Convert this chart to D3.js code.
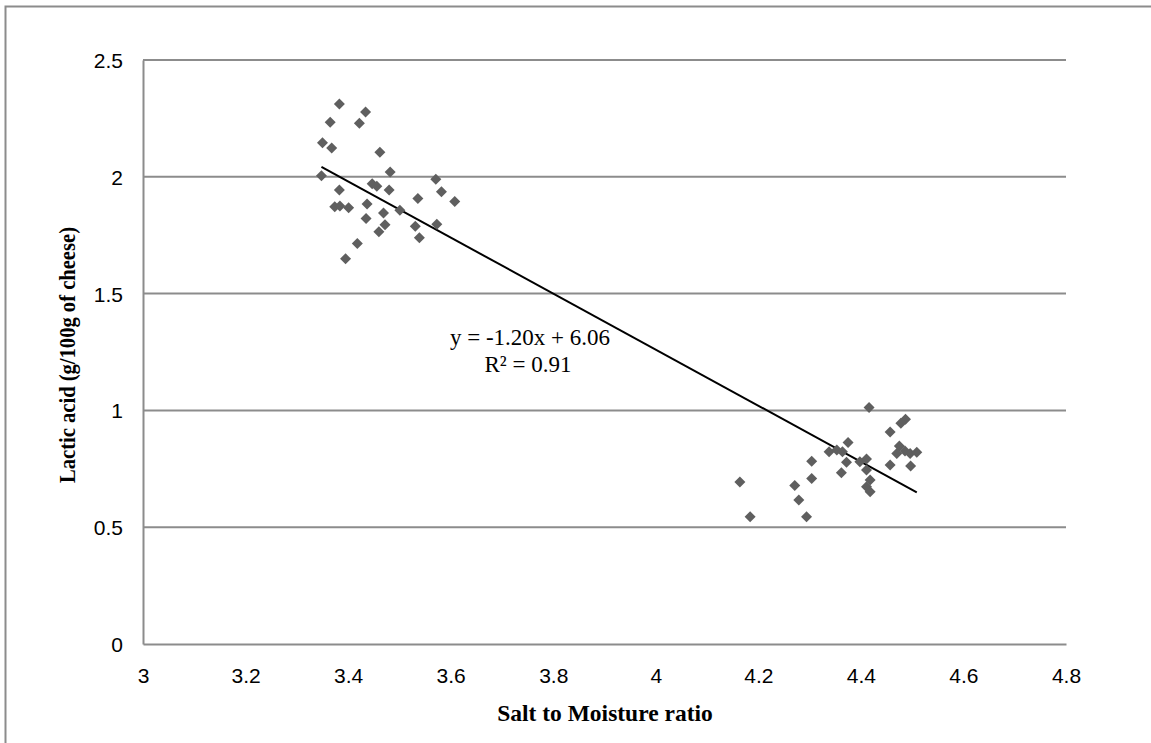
<!DOCTYPE html>
<html>
<head>
<meta charset="utf-8">
<script src="https://cdn.jsdelivr.net/npm/d3@7/dist/d3.min.js"></script>
<style>
  html, body { margin: 0; padding: 0; background: #fff; }
  svg { display: block; }
</style>
</head>
<body>
<svg id="chart" width="1151" height="743"></svg>
<script>
// Salt-to-moisture ratio (x) and lactic acid content (y) per sample
const saltMoisture = [
  3.383, 3.434, 3.365, 3.422, 3.350, 3.368, 3.462, 3.348, 3.482, 3.571,
  3.383, 3.447, 3.456, 3.480, 3.582, 3.536, 3.608, 3.374, 3.384, 3.401,
  3.437, 3.501, 3.469, 3.435, 3.472, 3.460, 3.531, 3.573, 3.539, 3.418,
  3.395,
  4.416, 4.487, 4.478, 4.457, 4.375, 4.338, 4.353, 4.364, 4.475, 4.486,
  4.470, 4.496, 4.509, 4.411, 4.372, 4.398, 4.304, 4.457, 4.497, 4.411,
  4.362, 4.304, 4.418, 4.164, 4.271, 4.411, 4.418, 4.279, 4.184, 4.294
];
const lacticAcid = [
  2.312, 2.277, 2.233, 2.229, 2.146, 2.123, 2.105, 2.005, 2.021, 1.989,
  1.943, 1.970, 1.960, 1.943, 1.936, 1.907, 1.894, 1.872, 1.875, 1.868,
  1.884, 1.857, 1.845, 1.821, 1.795, 1.765, 1.788, 1.797, 1.739, 1.715,
  1.649,
  1.012, 0.962, 0.945, 0.908, 0.863, 0.823, 0.830, 0.823, 0.848, 0.826,
  0.816, 0.816, 0.821, 0.792, 0.778, 0.780, 0.782, 0.766, 0.762, 0.745,
  0.733, 0.709, 0.702, 0.693, 0.679, 0.673, 0.652, 0.616, 0.545, 0.545
];

// Linear fit reported on the chart
const slope = -1.20;
const intercept = 6.06;
const rSquared = 0.91;

const xTicks = [3, 3.2, 3.4, 3.6, 3.8, 4, 4.2, 4.4, 4.6, 4.8];
const yTicks = [0, 0.5, 1, 1.5, 2, 2.5];

const svg = d3.select("#chart");
const plot = { left: 143, right: 1066, top: 60, bottom: 644 };

const x = d3.scaleLinear().domain([3, 4.8]).range([plot.left, plot.right]);
const y = d3.scaleLinear().domain([0, 2.5]).range([plot.bottom, plot.top]);

// Outer chart frame
svg.append("rect")
  .attr("x", 5.5).attr("y", 6.5)
  .attr("width", 1160).attr("height", 760)
  .attr("fill", "none").attr("stroke", "#8c8c8c").attr("stroke-width", 2);

// Horizontal gridlines
svg.append("g")
  .selectAll("line")
  .data(yTicks.filter(d => d > 0))
  .join("line")
  .attr("x1", plot.left).attr("x2", plot.right)
  .attr("y1", d => y(d)).attr("y2", d => y(d))
  .attr("stroke", "#8c8c8c").attr("stroke-width", 2);

// Axes
const xAxis = d3.axisBottom(x).tickValues(xTicks).tickSize(0).tickPadding(24)
  .tickFormat(d => String(d));
const yAxis = d3.axisLeft(y).tickValues(yTicks).tickSize(0).tickPadding(20)
  .tickFormat(d => String(d));

const gx = svg.append("g").attr("transform", `translate(0,${plot.bottom})`).call(xAxis);
const gy = svg.append("g").attr("transform", `translate(${plot.left},0)`).call(yAxis);

[gx, gy].forEach(g => {
  g.select(".domain").attr("stroke", "#8c8c8c").attr("stroke-width", 2);
  g.selectAll("text")
    .attr("font-family", "Liberation Sans, Arial, sans-serif")
    .attr("font-size", 21)
    .attr("fill", "#000");
});
gx.selectAll("text").attr("dy", "0.71em");
gy.selectAll("text").attr("dy", "0.36em");

// Trend line over the range of the data
const xExt = d3.extent(saltMoisture);
svg.append("line")
  .attr("x1", x(xExt[0])).attr("y1", y(slope * xExt[0] + intercept))
  .attr("x2", x(xExt[1])).attr("y2", y(slope * xExt[1] + intercept))
  .attr("stroke", "#000").attr("stroke-width", 2);

// Diamond markers
const points = saltMoisture.map((v, i) => [v, lacticAcid[i]]);
svg.append("g")
  .selectAll("path")
  .data(points)
  .join("path")
  .attr("transform", d => `translate(${x(d[0])},${y(d[1])})`)
  .attr("d", "M0,-5.5L5.5,0L0,5.5L-5.5,0Z")
  .attr("fill", "#5f5f5f");

// Regression equation
const eqStyle = t => t
  .attr("font-family", "Liberation Serif, Times New Roman, serif")
  .attr("font-size", 23)
  .attr("text-anchor", "middle")
  .attr("fill", "#000");
svg.append("text").call(eqStyle)
  .attr("x", 530).attr("y", 345)
  .text(`y = ${slope.toFixed(2)}x + ${intercept.toFixed(2)}`);
svg.append("text").call(eqStyle)
  .attr("x", 528).attr("y", 372)
  .text(`R² = ${rSquared.toFixed(2)}`);

// Axis titles
svg.append("text")
  .attr("x", 605).attr("y", 721)
  .attr("text-anchor", "middle")
  .attr("font-family", "Liberation Serif, Times New Roman, serif")
  .attr("font-weight", "bold")
  .attr("font-size", 23.5)
  .attr("fill", "#000")
  .text("Salt to Moisture ratio");

svg.append("text")
  .attr("transform", "translate(75,355) rotate(-90)")
  .attr("text-anchor", "middle")
  .attr("font-family", "Liberation Serif, Times New Roman, serif")
  .attr("font-weight", "bold")
  .attr("font-size", 24)
  .attr("textLength", 256)
  .attr("lengthAdjust", "spacingAndGlyphs")
  .attr("fill", "#000")
  .text("Lactic acid (g/100g of cheese)");
</script>
</body>
</html>
